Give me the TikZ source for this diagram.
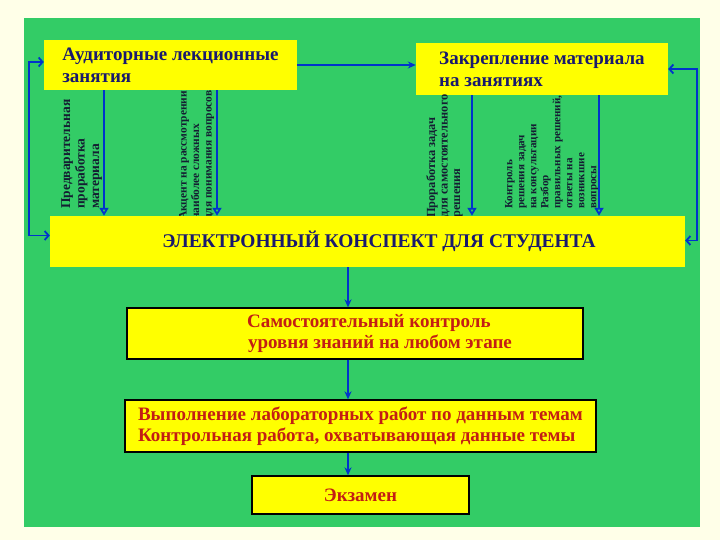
\documentclass[tikz,border=0pt]{standalone}
\usepackage{fontspec}
\setmainfont{Liberation Serif}
\usetikzlibrary{arrows.meta}
\definecolor{cream}{RGB}{255,255,232}
\definecolor{field}{RGB}{51,204,102}
\definecolor{boxyellow}{RGB}{255,255,0}
\definecolor{linkblue}{RGB}{0,51,204}
\definecolor{navy}{RGB}{25,25,110}
\definecolor{notecol}{RGB}{20,30,50}
\definecolor{darkred}{RGB}{195,30,20}

\begin{document}
\begin{tikzpicture}[x=1pt, y=-1pt,
        topbox/.style={fill=boxyellow, text=navy, align=left,
            font=\fontsize{19}{22}\selectfont\bfseries},
        lowbox/.style={fill=boxyellow, draw=black, line width=1.3pt, text=darkred,
            font=\fontsize{19}{20.5}\selectfont\bfseries},
        note/.style={rotate=90, anchor=north west, align=left, inner sep=0pt,
            text=notecol},
        arr/.style={linkblue, line width=1.8pt, -{Stealth[length=8pt, width=7pt]}},
        downarr/.style={linkblue, line width=1.8pt, -{Triangle[open, length=8pt, width=9pt]}},
        sideloop/.style={linkblue, line width=1.8pt,
            {Straight Barb[length=4pt, width=9pt]}-{Straight Barb[length=4pt, width=9pt]}}]
        % Background
        \fill[cream] (0,0) rectangle (720,540);
        \fill[field] (24,18) rectangle (700,527);

        % Top boxes
        \node[topbox, minimum width=253pt, minimum height=50pt] (lec) at (170.5,65)
            {Аудиторные лекционные\\занятия};
        \node[topbox, minimum width=252pt, minimum height=52pt] (zak) at (542,69)
            {Закрепление материала\\на занятиях};

        % Notes on the down arrows
        \node[note, font=\fontsize{13.5}{14.5}\selectfont\bfseries] (n1) at (61,209)
            {Предварительная\\проработка\\материала};
        \node[note, font=\fontsize{11.4}{12.5}\selectfont\bfseries] (n2) at (179,220)
            {Акцент на рассмотрении\\наиболее сложных\\для понимания вопросов};
        \node[note, font=\fontsize{12.4}{12.5}\selectfont\bfseries] (n3) at (426,218)
            {Проработка задач\\для самостоятельного\\решения};
        \node[note, font=\fontsize{11.1}{12}\selectfont\bfseries] (n4) at (505,209)
            {Контроль\\решения задач\\на консультации\\Разбор\\правильных решений,\\ответы на\\возникшие\\вопросы};

        % Main box
        \node[fill=boxyellow, text=navy, minimum width=635pt, minimum height=51pt,
            font=\fontsize{19.4}{20}\selectfont\bfseries] (konsp) at (367.5,241.5)
            {\hspace*{23pt}ЭЛЕКТРОННЫЙ КОНСПЕКТ ДЛЯ СТУДЕНТА};

        % Lower boxes
        \node[lowbox, minimum width=456pt, minimum height=51pt, align=left] (samk) at (355,333.5)
            {\hspace*{49pt}Самостоятельный контроль\\\hspace*{50pt}уровня знаний на любом этапе};
        \node[lowbox, minimum width=471pt, minimum height=52pt, align=left] (lab) at (360.5,426)
            {Выполнение лабораторных работ по данным темам\\Контрольная работа, охватывающая данные темы};
        \node[lowbox, minimum width=217pt, minimum height=38pt] (ekz) at (360.5,495) {Экзамен};

        % Edges
        \draw[arr] (lec.east) -- (zak.west |- lec.east);
        \foreach \src/\dx in {lec/-66.5, lec/46.5, zak/-70, zak/57}
            \draw[downarr] ([xshift=\dx pt]\src.south) coordinate (top) -- (top |- konsp.north);
        \draw[sideloop] ([yshift=3pt]lec.west) -- ++(-15,0) |- ([yshift=6pt]konsp.west);
        \draw[sideloop] (zak.east) -- ++(29,0) |- ([yshift=1pt]konsp.east);

        \coordinate (spine) at (348,0);
        \draw[arr] (konsp.south -| spine) -- (samk.north -| spine);
        \draw[arr] (samk.south -| spine) -- (lab.north -| spine);
        \draw[arr] (lab.south -| spine) -- (ekz.north -| spine);
    \end{tikzpicture}
\end{document}
